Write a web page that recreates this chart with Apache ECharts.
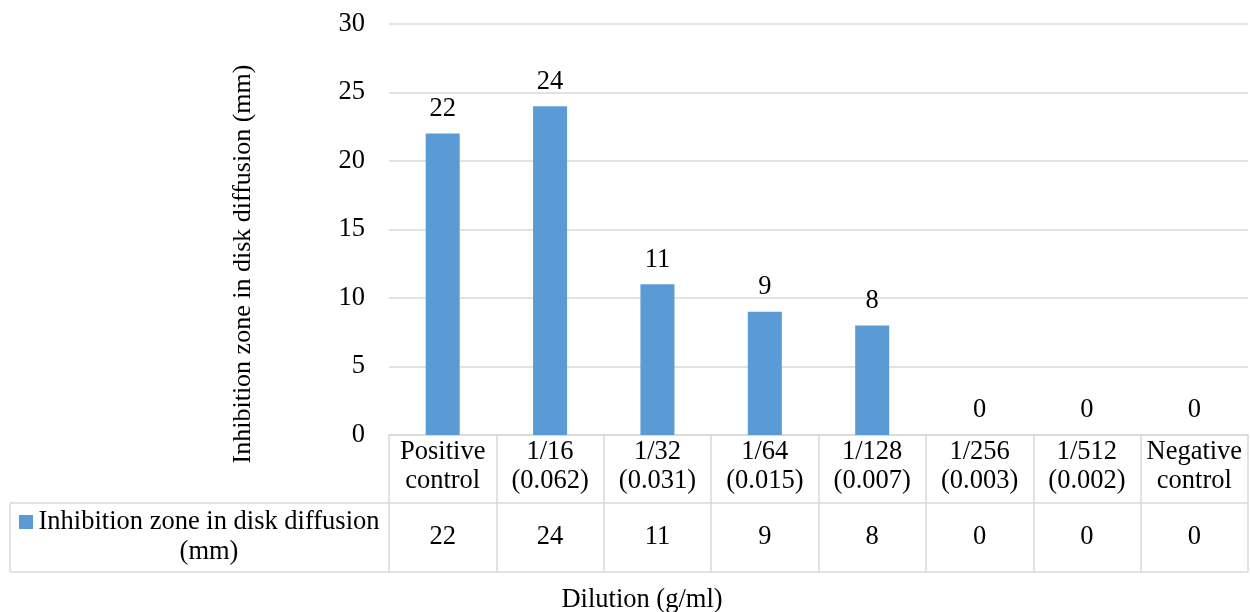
<!DOCTYPE html>
<html>
<head>
<meta charset="utf-8">
<script src="https://cdn.jsdelivr.net/npm/echarts@6/dist/echarts.min.js"></script>
<style>html,body{margin:0;padding:0;background:#fff;}#c{width:1250px;height:612px;}</style>
</head>
<body>
<div id="c"></div>
<script>
const categories = ['Positive\ncontrol', '1/16\n(0.062)', '1/32\n(0.031)', '1/64\n(0.015)', '1/128\n(0.007)', '1/256\n(0.003)', '1/512\n(0.002)', 'Negative\ncontrol'];
const values = [22, 24, 11, 9, 8, 0, 0, 0];
const seriesName = 'Inhibition zone in disk diffusion (mm)';
const yTitle = 'Inhibition zone in disk diffusion (mm)';
const xTitle = 'Dilution (g/ml)';

const FONT = '"Liberation Serif", "Times New Roman", serif';
const FS = 26.5;
const GRID = '#d9d9d9';
const BAR = '#5b9bd5';
const L = 389, R = 1248, TOP = 24, AXY = 435, ROW2 = 503, BOT = 572, TL = 10;

const chart = echarts.init(document.getElementById('c'), null, {renderer: 'canvas'});
chart.setOption({
  animation: false,
  backgroundColor: '#fff',
  textStyle: {fontFamily: FONT, color: '#000'},
  grid: {left: L, right: 1250 - R, top: TOP, bottom: 612 - AXY, containLabel: false},
  xAxis: [{
    type: 'category',
    data: categories,
    position: 'bottom',
    axisLine: {show: true, lineStyle: {color: GRID, width: 1.5}},
    axisTick: {show: true, length: BOT - AXY, lineStyle: {color: GRID, width: 1.5}},
    axisLabel: {fontFamily: FONT, fontSize: FS, color: '#000', lineHeight: 29, margin: 3, interval: 0}
  }, {
    type: 'category',
    data: values.map(String),
    position: 'bottom',
    offset: 89,
    axisLine: {show: false},
    axisTick: {show: false},
    axisLabel: {fontFamily: FONT, fontSize: FS, color: '#000', lineHeight: 26, margin: 0, interval: 0}
  }],
  yAxis: {
    type: 'value',
    min: 0, max: 30, interval: 5,
    axisLine: {show: false},
    axisTick: {show: false},
    splitLine: {lineStyle: {color: GRID, width: 1.5}},
    axisLabel: {fontFamily: FONT, fontSize: FS, color: '#000', margin: 24}
  },
  series: [{
    name: seriesName,
    type: 'bar',
    data: values,
    barWidth: '31.7%',
    itemStyle: {color: BAR},
    label: {show: true, position: 'top', distance: 11, fontFamily: FONT, fontSize: FS, color: '#000'}
  }],
  graphic: [
    {type: 'line', shape: {x1: TL, y1: ROW2, x2: R, y2: ROW2}, style: {stroke: GRID, lineWidth: 1.5}},
    {type: 'line', shape: {x1: TL, y1: BOT, x2: R, y2: BOT}, style: {stroke: GRID, lineWidth: 1.5}},
    {type: 'line', shape: {x1: TL, y1: ROW2, x2: TL, y2: BOT}, style: {stroke: GRID, lineWidth: 1.5}},
    {type: 'rect', shape: {x: 19, y: 515, width: 14, height: 14}, style: {fill: BAR}},
    {type: 'text', x: 209, y: 537, style: {text: 'Inhibition zone in disk diffusion\n(mm)', font: FS + 'px ' + FONT, fill: '#000', align: 'center', verticalAlign: 'middle', lineHeight: 30}},
    {type: 'text', x: 642, y: 600, style: {text: xTitle, font: FS + 'px ' + FONT, fill: '#000', align: 'center', verticalAlign: 'middle'}},
    {type: 'text', x: 243, y: 264, rotation: Math.PI / 2, style: {text: yTitle, font: '26px ' + FONT, fill: '#000', align: 'center', verticalAlign: 'middle'}}
  ]
});
</script>
</body>
</html>
